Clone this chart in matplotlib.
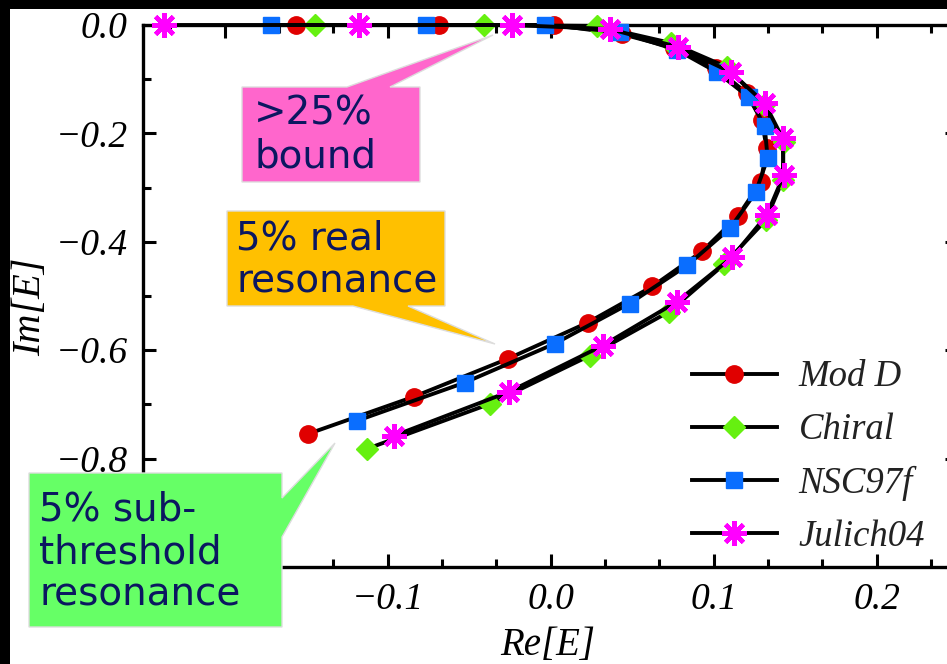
import matplotlib
matplotlib.use("Agg")
import matplotlib.pyplot as plt
from matplotlib.patches import Polygon, Rectangle
from matplotlib.transforms import Affine2D
from matplotlib.ticker import MultipleLocator

W, H = 947, 664

# ---------------- data ----------------
series_names = ["Mod D", "Chiral", "NSC97f", "Julich04"]

modd_re = [-0.1564, -0.0686, 0.002, 0.0436, 0.0759, 0.1015, 0.1204, 0.1296, 0.1326,
           0.1290, 0.1149, 0.0930, 0.0625, 0.0229, -0.0259, -0.0838, -0.1485]
modd_im = [0.0, 0.0, 0.0, -0.0166, -0.0425, -0.0795, -0.1257, -0.1756, -0.2274,
           -0.2902, -0.3530, -0.4177, -0.4824, -0.5490, -0.6155, -0.6858, -0.7542]

chiral_re = [-0.1442, -0.0405, 0.0284, 0.0741, 0.1082, 0.1308, 0.1430, 0.1424,
             0.1320, 0.1064, 0.0729, 0.0241, -0.0369, -0.1125]
chiral_im = [0.0, 0.0, -0.0018, -0.0333, -0.0776, -0.1479, -0.2163, -0.2865,
             -0.3604, -0.4418, -0.5287, -0.6100, -0.6987, -0.7819]

nsc_re = [-0.1716, -0.0765, -0.0034, 0.0424, 0.0777, 0.1021, 0.1216, 0.1314, 0.1332,
          0.1259, 0.1101, 0.0838, 0.0485, 0.0027, -0.0527, -0.1186]
nsc_im = [0.0, 0.0, 0.0, -0.0129, -0.0462, -0.0869, -0.1331, -0.1867, -0.2458,
          -0.3087, -0.3752, -0.4436, -0.5139, -0.5878, -0.6599, -0.7301]

julich_re = [-0.2369, -0.1174, -0.0235, 0.0363, 0.0784, 0.1107, 0.1314, 0.1424, 0.1430,
             0.1326, 0.1113, 0.0777, 0.0320, -0.0253, -0.0960]
julich_im = [0.0, 0.0, 0.0, -0.0074, -0.0407, -0.0869, -0.1442, -0.2089, -0.2773,
             -0.3512, -0.4288, -0.5102, -0.5915, -0.6765, -0.7579]

x_ticks = [-0.2, -0.1, 0.0, 0.1, 0.2]
x_ticklabels = ["", "\u22120.1", "0.0", "0.1", "0.2"]        # -0.2 is hidden under the green box
y_ticks = [0.0, -0.2, -0.4, -0.6, -0.8, -1.0]
y_ticklabels = ["0.0", "\u22120.2", "\u22120.4", "\u22120.6", "\u22120.8", ""]  # -1.0 hidden

callout_texts = [">25%\nbound", "5% real\nresonance", "5% sub-\nthreshold\nresonance"]

# ---------------- figure ----------------
fig = plt.figure(figsize=(W / 100, H / 100), dpi=100, facecolor="black")
px = Affine2D().scale(1 / W, -1 / H).translate(0, 1) + fig.transFigure

# white canvas (black strip at left and top)
fig.patches.append(Rectangle((10, 9), W - 10, H - 9, transform=px,
                             facecolor="white", edgecolor="none", zorder=-5))

x0, x1, y0, y1 = 143, 958, 25, 567
ax = fig.add_axes([x0 / W, 1 - y1 / H, (x1 - x0) / W, (y1 - y0) / H])
ax.set_facecolor("white")

serif = "Liberation Serif"
lw = 2.8
ax.plot(modd_re, modd_im, color="black", lw=lw, marker="o", ms=12.5,
        mfc="#E00000", mec="#E00000", label=series_names[0], zorder=3, clip_on=False)
ax.plot(chiral_re, chiral_im, color="black", lw=lw, marker="D", ms=11,
        mfc="#66F010", mec="#66F010", label=series_names[1], zorder=3, clip_on=False)
ax.plot(nsc_re, nsc_im, color="black", lw=lw, marker="s", ms=11,
        mfc="#0A6EFF", mec="#0A6EFF", label=series_names[2], zorder=3, clip_on=False)
ax.plot(julich_re, julich_im, color="black", lw=lw, marker=(8, 2, 0), ms=18,
        mfc="#FF00FF", mec="#FF00FF", mew=3.2, label=series_names[3], zorder=3, clip_on=False)

ax.set_xlim(-0.25, 0.25)
ax.set_ylim(-1.0, 0.0)
ax.set_xticks(x_ticks)
ax.set_yticks(y_ticks)
ax.xaxis.set_minor_locator(MultipleLocator(0.1 / 3))
ax.yaxis.set_minor_locator(MultipleLocator(0.1))
ax.tick_params(which="both", direction="in", top=True, right=True, width=2.2)
ax.tick_params(which="major", length=9.5, pad=11)
ax.tick_params(which="minor", length=5.5)
for sp in ax.spines.values():
    sp.set_linewidth(2.4)
    sp.set_clip_on(False)
    sp.set_zorder(2)

ax.set_xticklabels(x_ticklabels, fontfamily=serif, fontstyle="italic", fontsize=27)
ax.set_yticklabels(y_ticklabels, fontfamily=serif, fontstyle="italic", fontsize=27)

ax.set_xlabel("Re[E]", fontfamily=serif, fontstyle="italic", fontsize=28)
ax.set_ylabel("Im[E]", fontfamily=serif, fontstyle="italic", fontsize=29)
ax.xaxis.label.set_va("center")
ax.yaxis.label.set_va("center")
ax.xaxis.set_label_coords((548 - x0) / (x1 - x0), (y1 - 645) / (y1 - y0))
ax.yaxis.set_label_coords((31 - x0) / (x1 - x0), (y1 - 307) / (y1 - y0))

leg = ax.legend(loc="upper left", bbox_to_anchor=((692 - x0) / (x1 - x0), (y1 - 360) / (y1 - y0)),
                frameon=False, borderpad=0, borderaxespad=0, handlelength=2.3,
                handletextpad=0.6, labelspacing=0.5,
                prop={"family": serif, "style": "italic", "size": 26.5})
for t in leg.get_texts():
    t.set_color("#222222")

# ---------------- callouts ----------------
navy = "#0B1760"
callouts = [
    ([(242, 87), (347, 87), (493, 35), (390, 87), (420, 87), (420, 182), (242, 182)],
     "#FF66CC", (254, 135)),
    ([(227, 211), (445, 211), (445, 306), (408, 306), (495, 344), (353, 306), (227, 306)],
     "#FFC000", (236, 260)),
    ([(29, 473), (282, 473), (282, 498), (335, 443), (282, 537), (282, 627), (29, 627)],
     "#66FF66", (39, 552)),
]
for (pts, col, tpos), txt in zip(callouts, callout_texts):
    fig.patches.append(Polygon(pts, closed=True, transform=px, facecolor=col,
                               edgecolor="#DDDDDD", lw=1.0, zorder=10))
    fig.text(tpos[0] / W, 1 - tpos[1] / H, txt, ha="left", va="center",
             fontfamily="DejaVu Sans", fontsize=28, color=navy,
             linespacing=1.14, zorder=11)

fig.savefig("out.png", dpi=100, facecolor=fig.get_facecolor())
